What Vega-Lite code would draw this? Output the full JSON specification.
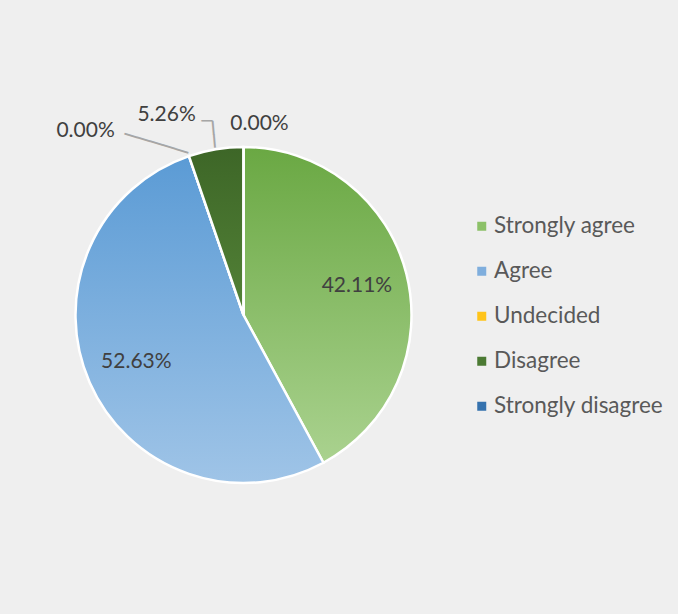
{
  "$schema": "https://vega.github.io/schema/vega-lite/v6.json",
  "width": 336,
  "height": 336,
  "autosize": {"type": "none"},
  "padding": {"left": 75.5, "top": 147, "right": 266.5, "bottom": 131},
  "background": "#efefef",
  "config": {"view": {"stroke": null}, "font": "Lato"},
  "data": {
    "values": [
      {"answer": "Strongly agree", "idx": 1, "value": 42.11, "label": "42.11%"},
      {"answer": "Agree", "idx": 2, "value": 52.63, "label": "52.63%"},
      {"answer": "Undecided", "idx": 3, "value": 0, "label": "0.00%"},
      {"answer": "Disagree", "idx": 4, "value": 5.26, "label": "5.26%"},
      {"answer": "Strongly disagree", "idx": 5, "value": 0, "label": "0.00%"}
    ]
  },
  "encoding": {
    "theta": {"field": "value", "type": "quantitative", "stack": true},
    "order": {"field": "idx", "type": "quantitative", "sort": "ascending"}
  },
  "layer": [
    {
      "mark": {"type": "arc", "stroke": "#ffffff", "strokeWidth": 2.5},
      "encoding": {
        "color": {
          "field": "answer",
          "type": "nominal",
          "scale": {
            "domain": ["Strongly agree", "Agree", "Undecided", "Disagree", "Strongly disagree"],
            "range": ["#8CC168", "#7FAEDD", "#FFC41A", "#4B7A33", "#3572AE"]
          },
          "legend": {
            "orient": "none",
            "legendX": 395,
            "legendY": 68,
            "title": null,
            "symbolType": "square",
            "symbolSize": 81,
            "symbolStrokeWidth": 0,
            "labelFontSize": 22.5,
            "labelFont": "Lato",
            "labelColor": "#595959",
            "labelOffset": 1,
            "labelLimit": 400,
            "rowPadding": 22,
            "padding": 0
          },
          "condition": [
            {"test": "datum.answer === 'Strongly agree'", "value": {"gradient": "linear", "x1": 0, "y1": 0, "x2": 0, "y2": 1, "stops": [{"offset": 0, "color": "#6AA843"}, {"offset": 1, "color": "#AAD28F"}]}},
            {"test": "datum.answer === 'Agree'", "value": {"gradient": "linear", "x1": 0, "y1": 0, "x2": 0, "y2": 1, "stops": [{"offset": 0, "color": "#5B9BD5"}, {"offset": 1, "color": "#9FC4E7"}]}},
            {"test": "datum.answer === 'Disagree'", "value": {"gradient": "linear", "x1": 0, "y1": 0, "x2": 0, "y2": 1, "stops": [{"offset": 0, "color": "#3D6627"}, {"offset": 1, "color": "#538237"}]}}
          ]
        }
      }
    },
    {
      "mark": {"type": "text", "radius": 171, "align": "right", "baseline": "middle", "angle": 16.7, "font": "DejaVu Sans Mono", "fontSize": 22, "color": "#a6a6a6"},
      "encoding": {
        "text": {"value": "─────"},
        "opacity": {"condition": {"test": "datum.answer === 'Undecided'", "value": 1}, "value": 0}
      }
    },
    {
      "mark": {"type": "text", "radius": 170, "align": "left", "baseline": "middle", "angle": -95, "font": "DejaVu Sans Mono", "fontSize": 22, "color": "#a6a6a6"},
      "encoding": {
        "text": {"value": "──"},
        "opacity": {"condition": {"test": "datum.answer === 'Disagree'", "value": 1}, "value": 0}
      }
    },
    {
      "mark": {"type": "text", "radius": 196, "align": "right", "baseline": "middle", "dx": 1, "font": "DejaVu Sans Mono", "fontSize": 18, "color": "#a6a6a6"},
      "encoding": {
        "text": {"value": "─"},
        "opacity": {"condition": {"test": "datum.answer === 'Disagree'", "value": 1}, "value": 0}
      }
    },
    {
      "mark": {"type": "text", "radius": 117, "fontSize": 21, "color": "#404040", "font": "Lato", "baseline": "middle"},
      "encoding": {
        "text": {"field": "label"},
        "opacity": {"condition": {"test": "datum.value > 10", "value": 1}, "value": 0}
      }
    },
    {
      "mark": {"type": "text", "radius": 200, "dx": -93, "dy": 5, "fontSize": 21, "color": "#404040", "font": "Lato", "baseline": "middle"},
      "encoding": {
        "text": {"field": "label"},
        "opacity": {"condition": {"test": "datum.answer === 'Undecided'", "value": 1}, "value": 0}
      }
    },
    {
      "mark": {"type": "text", "radius": 200, "dx": -44, "dy": -3, "fontSize": 21, "color": "#404040", "font": "Lato", "baseline": "middle"},
      "encoding": {
        "text": {"field": "label"},
        "opacity": {"condition": {"test": "datum.answer === 'Disagree'", "value": 1}, "value": 0}
      }
    },
    {
      "mark": {"type": "text", "radius": 191, "dx": 16, "dy": 0, "fontSize": 21, "color": "#404040", "font": "Lato", "baseline": "middle"},
      "encoding": {
        "text": {"field": "label"},
        "opacity": {"condition": {"test": "datum.answer === 'Strongly disagree'", "value": 1}, "value": 0}
      }
    }
  ]
}
